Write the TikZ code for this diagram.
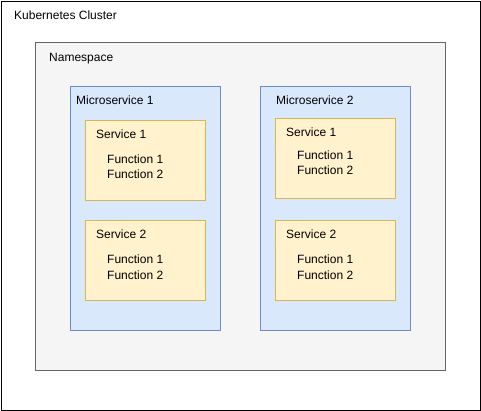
\documentclass[tikz,border=0pt]{standalone}
\usepackage{fontspec}
\setmainfont{Liberation Sans}
\usepackage{xcolor}
\definecolor{cNs}{HTML}{F5F5F5}
\definecolor{bNs}{HTML}{666666}
\definecolor{cMs}{HTML}{DAE8FC}
\definecolor{bMs}{HTML}{6C8EBF}
\definecolor{cSvc}{HTML}{FFF2CC}
\definecolor{bSvc}{HTML}{D6B656}

\begin{document}
\begin{tikzpicture}[
    x=1pt, y=-1pt,
    font=\fontsize{12}{15}\selectfont,
    box/.style={
        draw=#1,
        line width=1pt,
        anchor=north west,
        inner sep=0pt
    },
    svcbox/.style={box=bSvc, fill=cSvc, minimum width=120pt, minimum height=80pt},
    msbox/.style={box=bMs, fill=cMs, minimum width=150pt, minimum height=244pt},
    txt/.style={anchor=base west, inner sep=0pt}
]

\useasboundingbox (0,0) rectangle (481,411);

\node[box=black, fill=white, minimum width=479pt, minimum height=409pt] (cluster) at (0.6,0.6) {};
\node[box=bNs, fill=cNs, minimum width=410pt, minimum height=328pt] (ns) at (35,42) {};

% Microservices
\node[msbox] (ms1) at (70,86) {};
\node[msbox] (ms2) at (260,86) {};

% Services
\node[svcbox] (s11) at (85,120) {};
\node[svcbox] (s12) at (85,220) {};
\node[svcbox] (s21) at (275,118) {};
\node[svcbox] (s22) at (275,220) {};

% Labels
\node[txt] (tcluster) at (14,19.5) {Kubernetes Cluster};
\node[txt] (tns) at (49,62) {Namespace};
\node[txt] (tms1) at (76,105) {Microservice 1};
\node[txt] (tms2) at (276,105) {Microservice 2};

\node[txt] (ts11) at (96,139) {Service 1};
\node[txt] (f11a) at (107,164) {Function 1};
\node[txt] (f11b) at (107,179) {Function 2};

\node[txt] (ts12) at (96,239) {Service 2};
\node[txt] (f12a) at (107,264) {Function 1};
\node[txt] (f12b) at (107,279) {Function 2};

\node[txt] (ts21) at (286,137) {Service 1};
\node[txt] (f21a) at (297,160) {Function 1};
\node[txt] (f21b) at (297,175) {Function 2};

\node[txt] (ts22) at (286,239) {Service 2};
\node[txt] (f22a) at (297,264) {Function 1};
\node[txt] (f22b) at (297,279) {Function 2};

\end{tikzpicture}
\end{document}
